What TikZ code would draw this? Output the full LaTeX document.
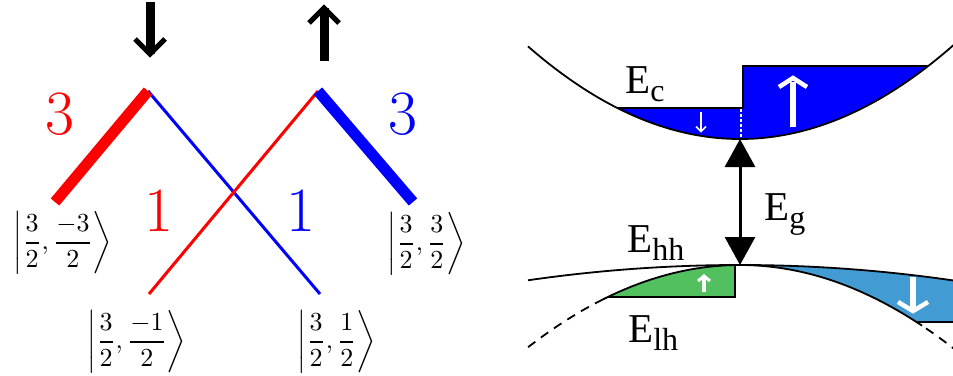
\documentclass[tikz,border=0pt]{standalone}
\usepackage{fontspec}
\newfontfamily\tnr{Liberation Serif}
\usetikzlibrary{arrows.meta,calc}
\definecolor{spinred}{RGB}{255,0,0}
\definecolor{spinblue}{RGB}{0,0,255}
\definecolor{cbblue}{RGB}{0,0,255}
\definecolor{hhgreen}{RGB}{82,192,94}
\definecolor{lhblue}{RGB}{66,155,210}
\newcommand\bandsub[1]{\raisebox{-8pt}{\fontsize{32}{32}\selectfont #1}}
\newcommand\ketsym[2]{\scalebox{2.6}{$\displaystyle\left|\frac{#1}{2},\frac{#2}{2}\right\rangle$}}
\begin{document}
\begin{tikzpicture}[x=1pt,y=-1pt,
  spinthick/.style={line width=11pt},
  spinthin/.style={line width=3pt},
  bigdigit/.style={font=\fontsize{63}{63}\selectfont, inner sep=0pt},
  ket/.style={inner sep=0pt},
  bandline/.style={line width=1.8pt, black},
  bandlbl/.style={font=\tnr\fontsize{41}{41}\selectfont, inner sep=0pt, anchor=base west},
  blackstem/.style={line width=9pt, black},
  blackhead/.style={line width=5pt, black, miter limit=10},
  wstem/.style={white},
  whead/.style={white, miter limit=10},
  egarrow/.style={line width=3pt, {Triangle[width=30pt,length=28pt]}-{Triangle[width=30pt,length=28pt]}},
]
\useasboundingbox (0,0) rectangle (953,375);

% ---------- left panel ----------
\coordinate (topL) at (148,91);
\coordinate (topR) at (318,91);
\coordinate (endLL) at (55,202);
\coordinate (endRR) at (413,202);
\coordinate (endML) at (149,294);
\coordinate (endMR) at (320,294);

\draw[spinthin, spinblue] (topL) -- (endMR);
\draw[spinthin, spinred] (endML) -- (topR);
\draw[spinthick, spinred] (endLL) -- (topL);
\draw[spinthick, spinblue] (topR) -- (endRR);

\node[bigdigit, text=spinred] (n3r) at (60,114) {3};
\node[bigdigit, text=spinblue] (n3b) at (403,114) {3};
\node[bigdigit, text=spinred] (n1r) at (159,211) {1};
\node[bigdigit, text=spinblue] (n1b) at (301,211) {1};

\node[ket] (k1) at (63,243) {\ketsym{3}{-3}};
\node[ket] (k2) at (427,244) {\ketsym{3}{3}};
\node[ket] (k3) at (137,342) {\ketsym{3}{-1}};
\node[ket] (k4) at (337,342) {\ketsym{3}{1}};

% spin arrows at top
\coordinate (dnA) at (150,2);
\coordinate (dnB) at (150,54);
\draw[blackstem] (dnA) -- (dnB);
\draw[blackhead] (dnB) ++(-15,-15) -- (dnB) -- ++(15,-15);
\coordinate (upA) at (324,61);
\coordinate (upB) at (324,8);
\draw[blackstem] (upA) -- (upB);
\draw[blackhead] (upB) ++(-15,15) -- (upB) -- ++(15,15);

% ---------- right panel ----------
\coordinate (cbmin) at (740,139);
\coordinate (vbmax) at (740,265);

% conduction band filling
\fill[cbblue] (617.3,108) -- plot[domain=617.3:928.2, samples=80] (\x,{139-(0.04539*(\x-740))^2}) -- (743,66) -- (743,108) -- cycle;
\draw[bandline] (617.3,108) -- (743,108) -- (743,66) -- (928.2,66);
\draw[white, line width=1.2pt, dash pattern=on 3pt off 2pt] (741,109) -- (741,138);
\draw[bandline] plot[domain=528:955, samples=120] (\x,{139-(0.04539*(\x-740))^2});

% valence band fillings
\fill[hhgreen] plot[domain=608:735, samples=50] (\x,{265+(0.04278*(\x-740))^2}) -- (735,297) -- cycle;
\draw[line width=1.2pt] (608,297) -- (735,297) -- (735,265.5);
\fill[lhblue] plot[domain=740:955, samples=60] (\x,{265+(0.01844*(\x-740))^2}) -- (955,322) -- (916.5,322) -- plot[domain=916.5:740, samples=60] (\x,{265+(0.04278*(\x-740))^2}) -- cycle;
\draw[bandline] (916.5,322) -- (955,322);

\draw[bandline] plot[domain=528:955, samples=120] (\x,{265+(0.01844*(\x-740))^2});
\draw[bandline] plot[domain=603:922, samples=100] (\x,{265+(0.04278*(\x-740))^2});
\draw[bandline, dash pattern=on 9pt off 7pt] plot[domain=603:528, samples=40] (\x,{265+(0.04278*(\x-740))^2});
\draw[bandline, dash pattern=on 9pt off 7pt] plot[domain=926:955, samples=20] (\x,{265+(0.04278*(\x-740))^2});

% gap arrow
\draw[egarrow] (cbmin) -- (vbmax);

% white spin arrows
\coordinate (a1s) at (701,112); \coordinate (a1t) at (701,131.5);
\draw[wstem, line width=1.5pt] (a1s) -- (a1t);
\draw[whead, line width=1.5pt] (a1t) ++(-5,-5) -- (a1t) -- ++(5,-5);

\coordinate (a2s) at (793,127); \coordinate (a2t) at (793,78);
\draw[wstem, line width=6pt] (a2s) -- ($(a2t)+(0,4)$);
\draw[whead, line width=4.5pt] (a2t) ++(-14,9) -- (a2t) -- ++(14,9);

\coordinate (a3s) at (704,292); \coordinate (a3t) at (704,276);
\draw[wstem, line width=3.5pt] (a3s) -- (a3t);
\draw[whead, line width=3pt] (a3t) ++(-6,5) -- (a3t) -- ++(6,5);

\coordinate (a4s) at (913,277); \coordinate (a4t) at (913,311);
\draw[wstem, line width=6pt] (a4s) -- (a4t);
\draw[whead, line width=4.5pt] (a4t) ++(-15,-9) -- (a4t) -- ++(15,-9);

% labels
\node[bandlbl] (ec) at (625,93) {E\bandsub{c}};
\node[bandlbl] (eg) at (764,220) {E\bandsub{g}};
\node[bandlbl] (ehh) at (627,252) {E\bandsub{hh}};
\node[bandlbl] (elh) at (628,342) {E\bandsub{lh}};
\end{tikzpicture}
\end{document}
